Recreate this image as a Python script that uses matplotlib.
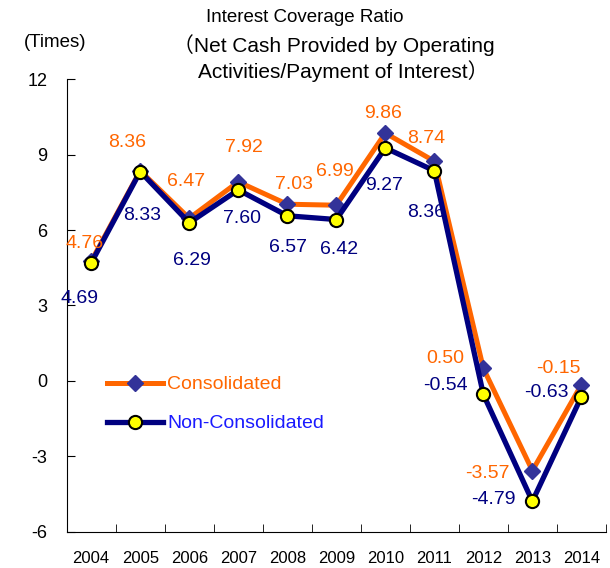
import numpy as np
import matplotlib
matplotlib.use("Agg")
import matplotlib.pyplot as plt
from matplotlib.lines import Line2D

plt.rcParams['font.family'] = ['Liberation Sans', 'Noto Sans CJK JP', 'DejaVu Sans']
plt.rcParams['axes.unicode_minus'] = False

# data
years = ['2004', '2005', '2006', '2007', '2008', '2009', '2010', '2011', '2012', '2013', '2014']
consolidated = [4.76, 8.36, 6.47, 7.92, 7.03, 6.99, 9.86, 8.74, 0.50, -3.57, -0.15]
non_consolidated = [4.69, 8.33, 6.29, 7.60, 6.57, 6.42, 9.27, 8.36, -0.54, -4.79, -0.63]

# label offsets in pixels (dx, dy)
cons_offsets = [(-7, 18), (-13, 28), (-3, 37), (6, 34), (7, 20), (-1, 34),
                (-2, 20), (-8, 23), (-38, 10), (-45, -3), (-23, 16)]
non_offsets = [(-12, -35), (2, -44), (3, -38), (4, -29), (1, -32), (3, -30),
               (-1, -38), (-8, -42), (-38, 9), (-39, 2), (-35, 4)]

orange = '#FF6600'
navy = '#000080'

fig = plt.figure(figsize=(6.1, 5.68), dpi=100)
ax = fig.add_axes([0.1093, 0.0639, 0.884, 0.7965])

x = np.arange(len(years))
ax.plot(x, consolidated, color=orange, lw=3.6, marker='D', ms=8,
        mfc='#333399', mec='#333399', zorder=3)
ax.plot(x, non_consolidated, color=navy, lw=3.8, marker='o', ms=9.5,
        mfc='#FFFF00', mec='black', mew=1.5, zorder=4)

for i, v in enumerate(consolidated):
    ax.annotate(f'{v:.2f}', (x[i], v), xytext=cons_offsets[i], textcoords='offset pixels',
                ha='center', va='center', color=orange, fontsize=14, zorder=5)
for i, v in enumerate(non_consolidated):
    ax.annotate(f'{v:.2f}', (x[i], v), xytext=non_offsets[i], textcoords='offset pixels',
                ha='center', va='center', color=navy, fontsize=14, zorder=5)

ax.set_xlim(-0.5, len(years) - 0.5)
ax.set_ylim(-6, 12)
ax.set_yticks(np.arange(-6, 13, 3))
ax.set_xticks(x)
ax.set_xticklabels(years, fontsize=12)
ax.set_xticks(np.arange(-0.5, len(years), 1), minor=True)
ax.tick_params(axis='x', which='major', length=0, pad=14)
ax.tick_params(axis='x', which='minor', length=6, direction='in', color='black')
ax.tick_params(axis='y', length=6, direction='in', labelsize=13, pad=14)

for s in ['top', 'right']:
    ax.spines[s].set_visible(False)

handles = [
    Line2D([], [], color=orange, lw=3.6, marker='D', ms=8, mfc='#333399', mec='#333399'),
    Line2D([], [], color=navy, lw=3.8, marker='o', ms=9.5, mfc='#FFFF00', mec='black', mew=1.5),
]
leg = ax.legend(handles, ['Consolidated', 'Non-Consolidated'], loc='center left',
                bbox_to_anchor=(0.0745, 0.282), frameon=False, fontsize=14,
                handlelength=2.9, handletextpad=0.2, labelspacing=1.1,
                borderpad=0, borderaxespad=0)
leg.get_texts()[0].set_color(orange)
leg.get_texts()[1].set_color('#1a1aff')

fig.text(0.5, 0.97, 'Interest Coverage Ratio', ha='center', va='center', fontsize=13.5)
fig.text(0.548, 0.921, '（Net Cash Provided by Operating', ha='center', va='center', fontsize=15)
fig.text(0.562, 0.875, 'Activities/Payment of Interest）', ha='center', va='center', fontsize=15)
fig.text(0.09, 0.926, '(Times)', ha='center', va='center', fontsize=13.5)

fig.savefig('out.png', dpi=100)
